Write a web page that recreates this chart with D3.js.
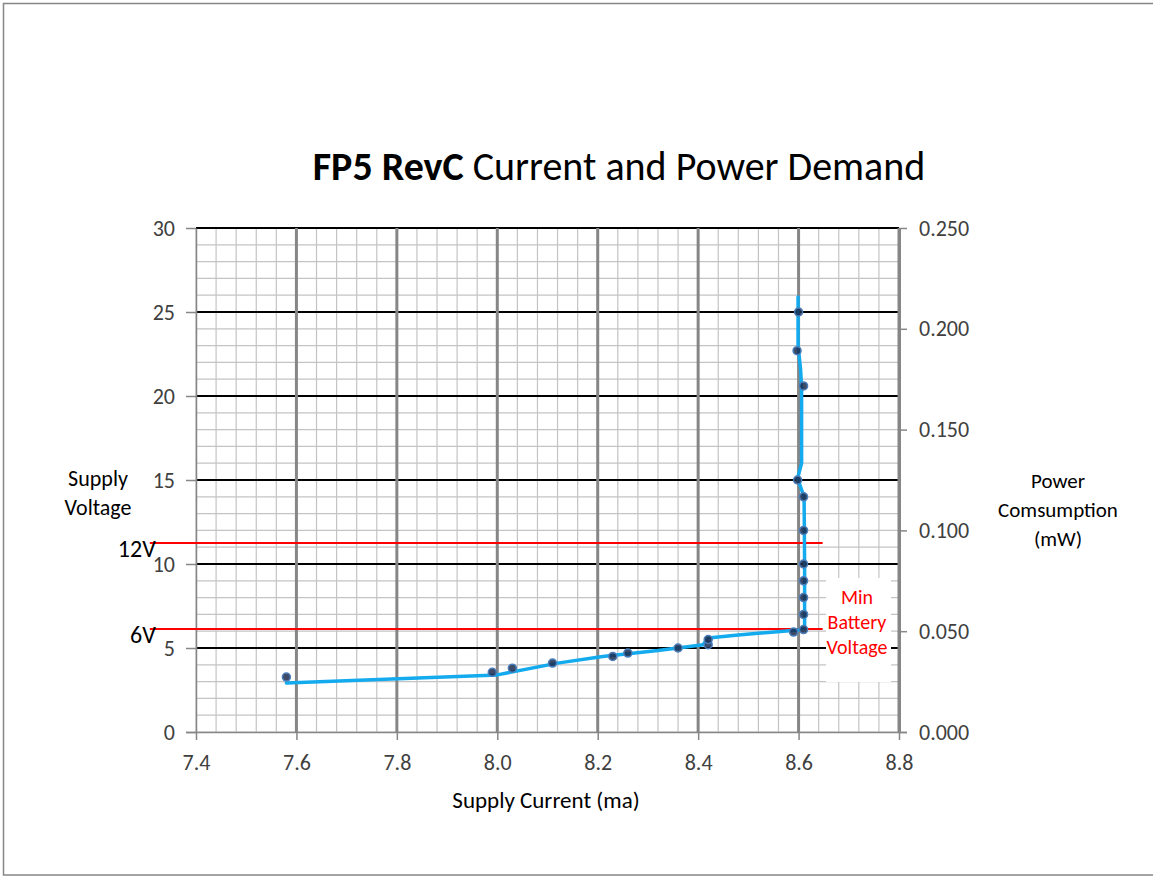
<!DOCTYPE html>
<html>
<head>
<meta charset="utf-8">
<script src="https://cdn.jsdelivr.net/npm/d3@7"></script>
<style>
  html, body { margin: 0; padding: 0; background: #fff; }
  svg { display: block; font-family: Carlito, Calibri, Lato, "Open Sans", sans-serif; }
</style>
</head>
<body>
<svg id="chart" width="1153" height="876"></svg>
<script>
// FP5 RevC supply current vs supply voltage, with the min battery markers

// measured points (supply current mA, supply voltage V)
const pointCurrent = [7.58, 7.99, 8.03, 8.11, 8.23, 8.26, 8.36, 8.42, 8.42, 8.59, 8.61,
                      8.61, 8.61, 8.61, 8.61, 8.61, 8.61, 8.598, 8.61, 8.597, 8.60];
const pointVoltage = [3.27, 3.55, 3.8, 4.1, 4.5, 4.7, 5.0, 5.2, 5.5, 5.95, 6.1,
                      7, 8, 9, 10, 12, 14, 15, 20.6, 22.7, 25];

// trend line drawn through the points
const lineCurrent = [7.58, 8.00, 8.12, 8.21, 8.32, 8.41, 8.42, 8.48, 8.60, 8.612,
                     8.612, 8.611, 8.598, 8.606, 8.606, 8.604, 8.599, 8.599];
const lineVoltage = [2.92, 3.4, 4.1, 4.5, 4.85, 5.2, 5.6, 5.78, 6.07, 6.2,
                     10, 14, 15.1, 16, 20.5, 21.6, 23, 25.9];

// battery reference lines
const refLabels = ["12V", "6V"];
const refVoltage = [11.25, 6.13];
const refFrom = 7.308;
const refTo = 8.648;

const xTicks = [7.4, 7.6, 7.8, 8.0, 8.2, 8.4, 8.6, 8.8];
const yTicks = [0, 5, 10, 15, 20, 25, 30];
const yRightTicks = [0, 0.05, 0.10, 0.15, 0.20, 0.25];
const noteLines = ["Min", "Battery", "Voltage"];

const svg = d3.select("#chart");
const W = 1153, H = 876;

const x = d3.scaleLinear().domain([7.4, 8.8]).range([196, 899]);
const y = d3.scaleLinear().domain([0, 30]).range([732, 228]);
const yR = d3.scaleLinear().domain([0, 0.25]).range([732, 228]);

svg.append("rect").attr("width", W).attr("height", H).attr("fill", "#fff");
svg.append("rect")
  .attr("x", 3.5).attr("y", 3.5).attr("width", W + 10).attr("height", 871.5)
  .attr("fill", "none").attr("stroke", "#868686").attr("stroke-width", 1.5);

// title
svg.append("text")
  .attr("x", 619).attr("y", 180).attr("text-anchor", "middle")
  .attr("font-size", 40).attr("fill", "#000")
  .call(t => {
    t.append("tspan").attr("font-weight", "bold").text("FP5 RevC");
    t.append("tspan").text(" Current and Power Demand");
  });

// grid
const grid = svg.append("g");
const minorX = d3.range(0, 36).map(i => 7.4 + i * 0.04);
const minorY = d3.range(0, 31);
grid.selectAll("line.mx").data(minorX).join("line")
  .attr("x1", d => x(d)).attr("x2", d => x(d))
  .attr("y1", y(30)).attr("y2", y(0))
  .attr("stroke", "#c4c4c4").attr("stroke-width", 1.2);
grid.selectAll("line.my").data(minorY).join("line")
  .attr("x1", x(7.4)).attr("x2", x(8.8))
  .attr("y1", d => y(d)).attr("y2", d => y(d))
  .attr("stroke", "#c4c4c4").attr("stroke-width", 1.2);
grid.selectAll("line.My").data(yTicks.filter(d => d > 0)).join("line")
  .attr("x1", x(7.4)).attr("x2", x(8.8))
  .attr("y1", d => y(d)).attr("y2", d => y(d))
  .attr("stroke", "#000").attr("stroke-width", 2);
grid.selectAll("line.Mx").data(xTicks.slice(1)).join("line")
  .attr("x1", d => x(d)).attr("x2", d => x(d))
  .attr("y1", y(30)).attr("y2", y(0))
  .attr("stroke", "#868686").attr("stroke-width", 3);

// axes
function styleAxis(g) {
  g.select(".domain").attr("stroke", "#868686").attr("stroke-width", 1.5);
  g.selectAll(".tick line").attr("stroke", "#868686").attr("stroke-width", 1.5);
  g.selectAll(".tick text").attr("fill", "#404040").attr("font-size", 22)
    .attr("font-family", "Carlito, Calibri, Lato, 'Open Sans', sans-serif");
}
svg.append("g").attr("transform", `translate(${x(7.4)},0)`)
  .call(d3.axisLeft(y).tickValues(yTicks).tickSize(10).tickSizeOuter(0).tickPadding(11))
  .call(styleAxis);
svg.append("g").attr("transform", `translate(0,${y(0)})`)
  .call(d3.axisBottom(x).tickValues(xTicks).tickFormat(d3.format(".1f"))
    .tickSize(8).tickSizeOuter(0).tickPadding(14))
  .call(styleAxis)
  .call(g => g.select(".domain").attr("d", `M${x(7.4) - 10},0.5H${x(8.8) + 8}`));
svg.append("g").attr("transform", `translate(${x(8.8)},0)`)
  .call(d3.axisRight(yR).tickValues(yRightTicks).tickFormat(d3.format(".3f"))
    .tickSize(8).tickSizeOuter(0).tickPadding(12))
  .call(styleAxis)
  .call(g => g.select(".domain").attr("stroke-width", 3));

// axis titles
const label = (lines, cx, y0, dy, size, color = "#000") =>
  svg.append("g").selectAll("text").data(lines).join("text")
    .attr("x", cx).attr("y", (d, i) => y0 + i * dy)
    .attr("text-anchor", "middle").attr("font-size", size).attr("fill", color)
    .text(d => d);
label(["Supply Current (ma)"], 546, 808, 0, 23);
label(["Supply", "Voltage"], 98, 486, 29, 22);
label(["Power", "Comsumption", "(mW)"], 1058, 488, 29, 21);

// min battery note box covering the grid
svg.append("rect")
  .attr("x", 826).attr("y", 578).attr("width", 65).attr("height", 104)
  .attr("fill", "#fff");
label(noteLines, 857, 604, 25, 20, "#ff0000");

// reference lines
svg.selectAll("line.ref").data(refVoltage).join("line")
  .attr("x1", x(refFrom)).attr("x2", x(refTo))
  .attr("y1", d => y(d)).attr("y2", d => y(d))
  .attr("stroke", "#ff0000").attr("stroke-width", 2);
svg.selectAll("text.ref").data(refLabels).join("text")
  .attr("x", x(refFrom) + 6).attr("y", (d, i) => y(refVoltage[i]) + 14)
  .attr("text-anchor", "end").attr("font-size", 24).attr("fill", "#000")
  .text(d => d);

// trend line
const pts = lineCurrent.map((c, i) => [c, lineVoltage[i]]);
svg.append("path")
  .attr("d", d3.line().x(d => x(d[0])).y(d => y(d[1])).curve(d3.curveLinear)(pts))
  .attr("fill", "none").attr("stroke", "#13abee").attr("stroke-width", 3.5)
  .attr("stroke-linejoin", "round").attr("stroke-linecap", "round");

// markers
svg.selectAll("circle.pt").data(pointCurrent.map((c, i) => [c, pointVoltage[i]])).join("circle")
  .attr("cx", d => x(d[0])).attr("cy", d => y(d[1])).attr("r", 4)
  .attr("fill", "#1b2b4d").attr("stroke", "#4a7ebb").attr("stroke-width", 1.5)
  .attr("fill-opacity", 0.85);
</script>
</body>
</html>
